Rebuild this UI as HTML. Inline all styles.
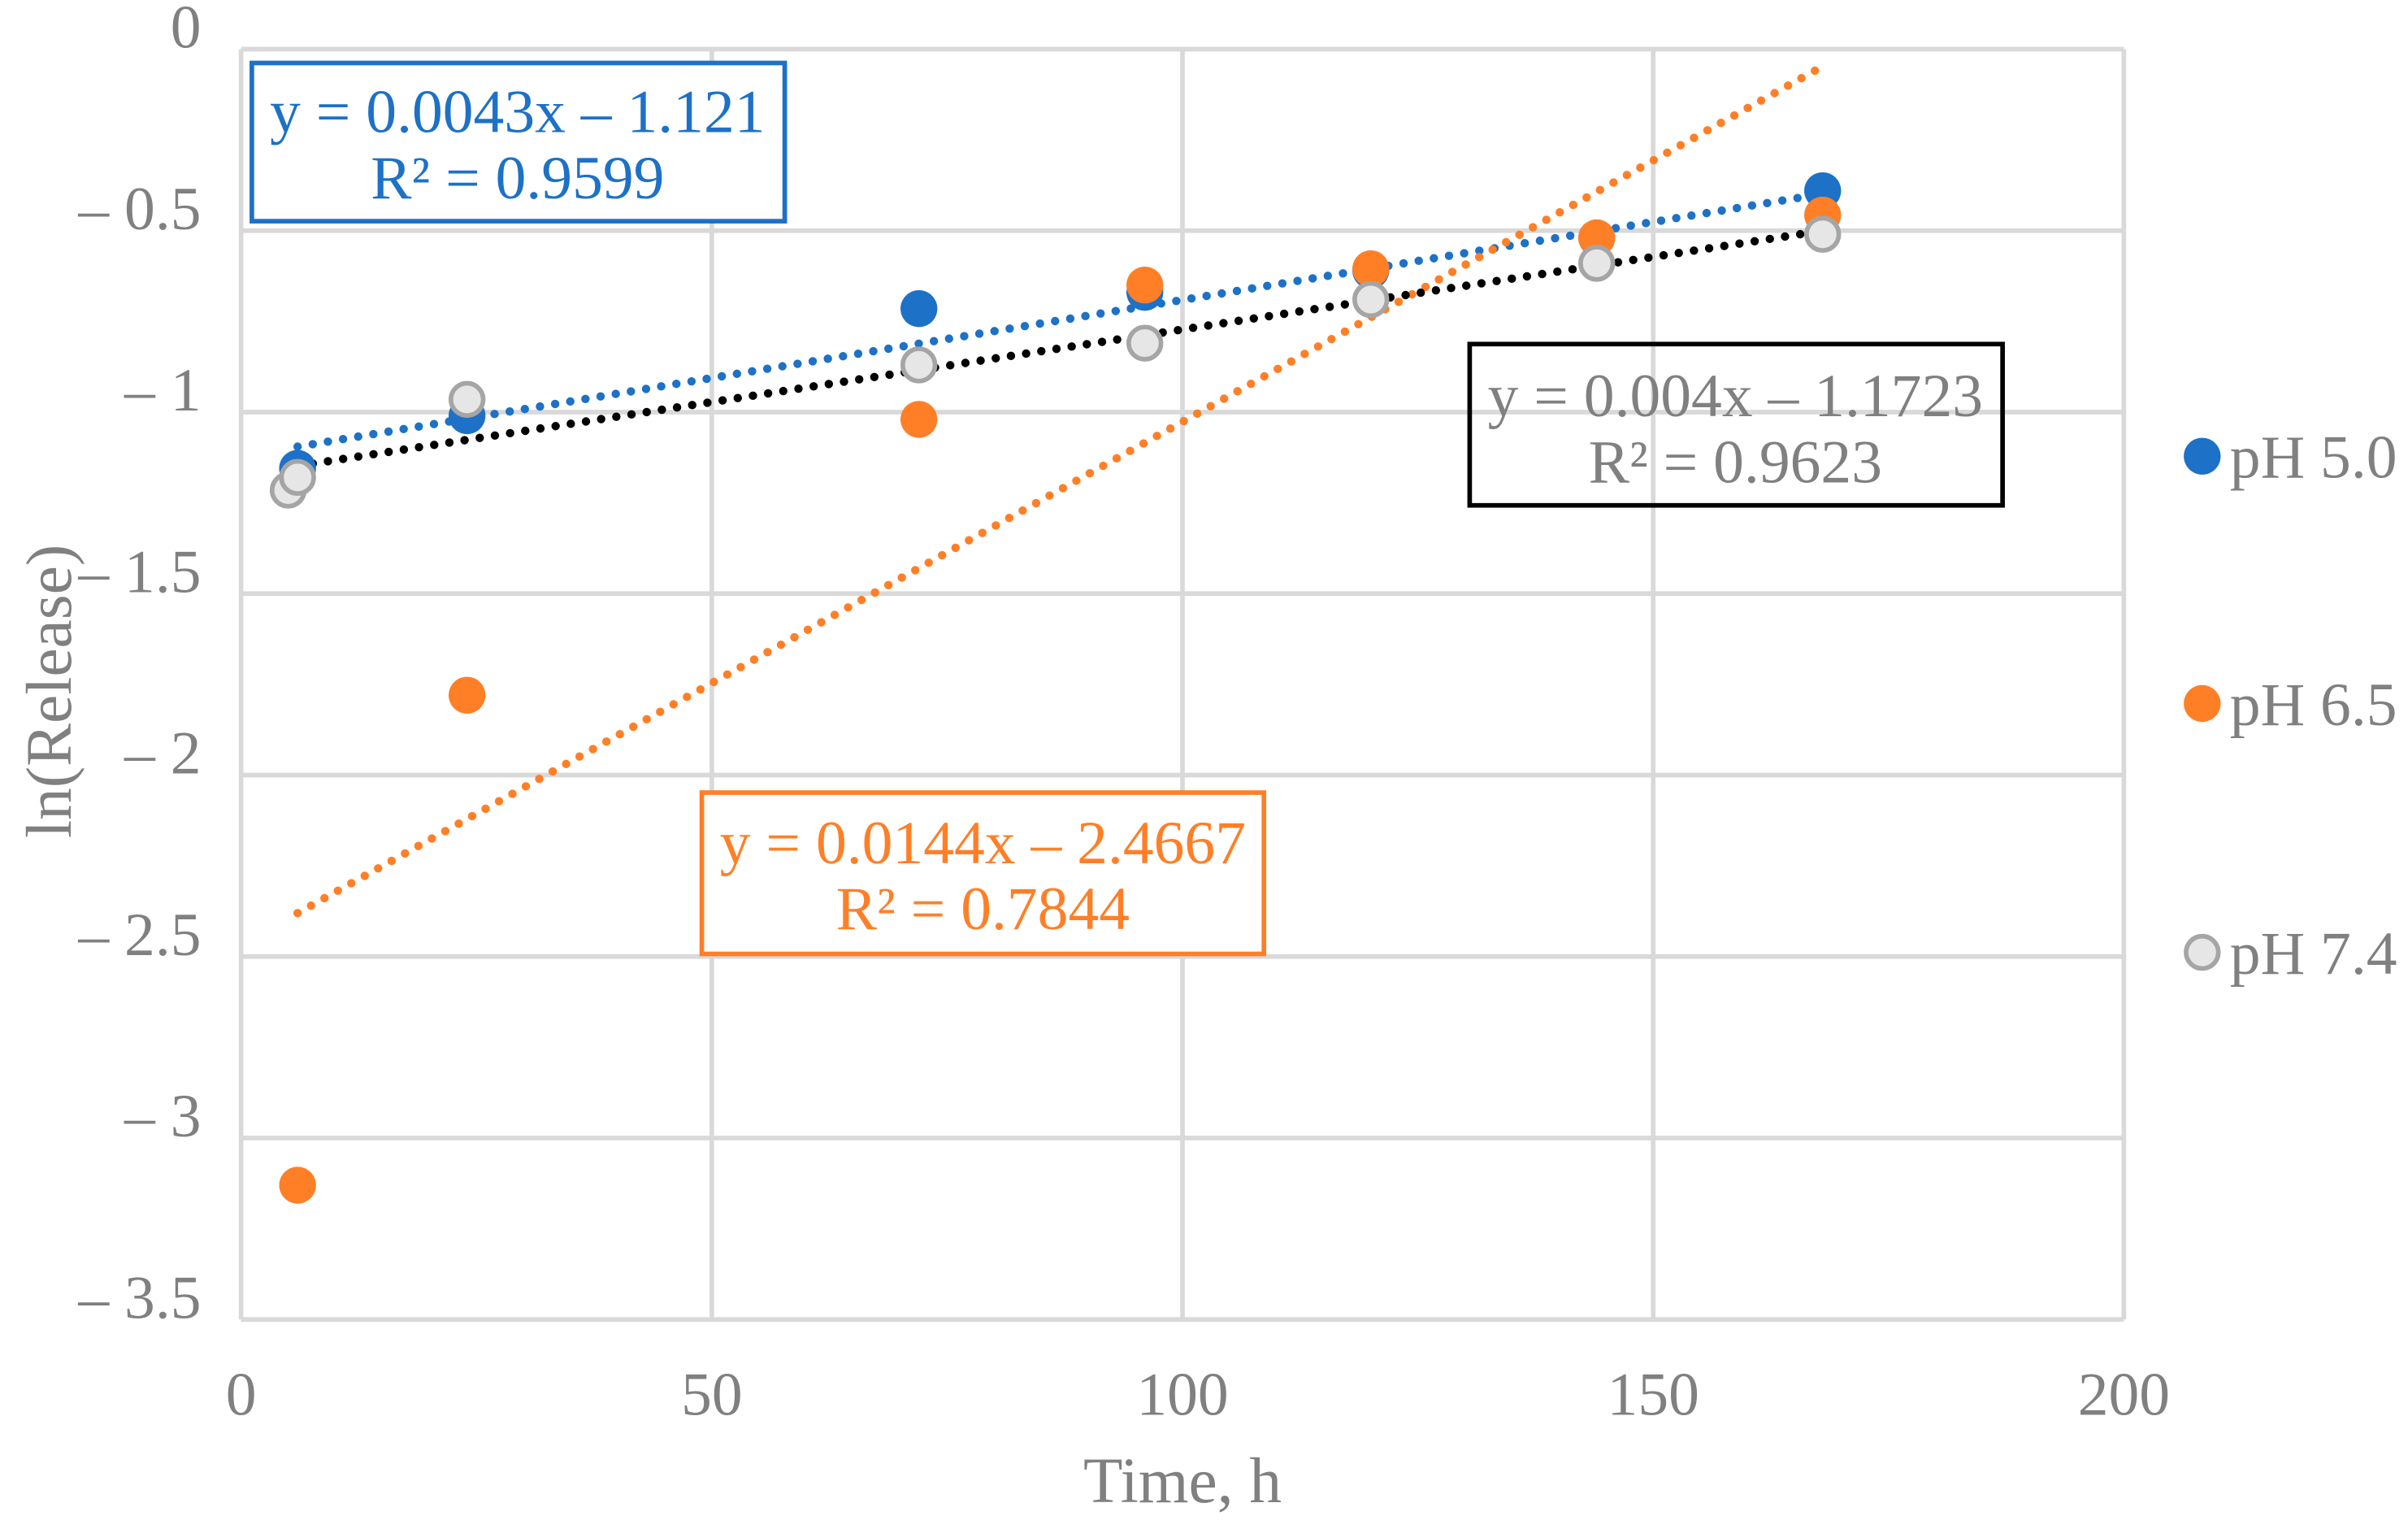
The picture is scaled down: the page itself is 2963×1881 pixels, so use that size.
<!DOCTYPE html>
<html><head><meta charset="utf-8"><style>
html,body{margin:0;padding:0;background:#fff}
svg{display:block}
text{font-family:"Liberation Serif",serif}
</style></head><body>
<svg id="chart" width="2963" height="1881" viewBox="0 0 1568 995.4" xmlns="http://www.w3.org/2000/svg">
<g id="grid"></g>
<g id="ylabels"></g>
<g id="xlabels"></g>
<g id="trends"></g>
<g id="points"></g>
<text x="770" y="978" font-size="42" fill="#808080" text-anchor="middle">Time, h</text>
<text transform="translate(46,450) rotate(-90)" font-size="42" fill="#808080" text-anchor="middle">ln(Release)</text>
<g>
<rect x="164" y="41" width="347" height="103" fill="#fff" stroke="#1d71c6" stroke-width="3"/>
<text x="337" y="86" font-size="40" fill="#1d71c6" text-anchor="middle">y = 0.0043x – 1.121</text>
<text x="337" y="129" font-size="40" fill="#1d71c6" text-anchor="middle">R² = 0.9599</text>
</g>
<g>
<rect x="957" y="224" width="347" height="105" fill="none" stroke="#000" stroke-width="3"/>
<text x="1130" y="271" font-size="40" fill="#808080" text-anchor="middle">y = 0.004x – 1.1723</text>
<text x="1130" y="314" font-size="40" fill="#808080" text-anchor="middle">R² = 0.9623</text>
</g>
<g>
<rect x="457" y="516" width="366" height="105" fill="#fff" stroke="#ff7f27" stroke-width="3"/>
<text x="640" y="562" font-size="40" fill="#ff7f27" text-anchor="middle">y = 0.0144x – 2.4667</text>
<text x="640" y="605" font-size="40" fill="#ff7f27" text-anchor="middle">R² = 0.7844</text>
</g>
<g>
<g><circle cx="1434" cy="297" r="12" fill="#1d71c6"/><text x="1452" y="311" font-size="40" fill="#808080">pH 5.0</text></g>
<g><circle cx="1434" cy="458" r="12" fill="#ff7f27"/><text x="1452" y="472" font-size="40" fill="#808080">pH 6.5</text></g>
<g><circle cx="1434" cy="620" r="10.5" fill="#e7e6e6" stroke="#a5a5a5" stroke-width="3"/><text x="1452" y="634" font-size="40" fill="#808080">pH 7.4</text></g>
</g>
</svg>
<script>
const xTicks = [0, 50, 100, 150, 200];
const yTicks = [0, -0.5, -1, -1.5, -2, -2.5, -3, -3.5];
const yTickLabels = ["0", "– 0.5", "– 1", "– 1.5", "– 2", "– 2.5", "– 3", "– 3.5"];
const ph5X = [6, 24, 72, 96, 120, 144, 168];
const ph5Y = [-1.155, -1.01, -0.715, -0.67, -0.61, -0.52, -0.39];
const ph65X = [6, 24, 72, 96, 120, 144, 168];
const ph65Y = [-3.13, -1.78, -1.02, -0.65, -0.605, -0.52, -0.457];
const ph74X = [5, 6, 24, 72, 96, 120, 144, 168];
const ph74Y = [-1.215, -1.18, -0.965, -0.87, -0.81, -0.69, -0.59, -0.51];
const trendSlopes = [0.0043, 0.0144, 0.004];
const trendIntercepts = [-1.121, -2.4667, -1.1723];
const trendRange = [6, 168];

const NS = "http://www.w3.org/2000/svg";
const L = 157, R = 1383, T = 32, B = 859;
const xs = v => L + (v - 0) / 200 * (R - L);
const ys = v => T + (0 - v) / 3.5 * (B - T);
function mk(tag, attrs, parent) {
  const e = document.createElementNS(NS, tag);
  for (const k in attrs) e.setAttribute(k, attrs[k]);
  parent.appendChild(e); return e;
}
const grid = document.getElementById('grid');
yTicks.forEach(v => {
  const l = mk('line', {x1: L, x2: R, y1: ys(v), y2: ys(v), stroke: '#d9d9d9', 'stroke-width': 3}, grid);
  
  
});
xTicks.forEach(v => {
  const l = mk('line', {x1: xs(v), x2: xs(v), y1: T, y2: B, stroke: '#d9d9d9', 'stroke-width': 3}, grid);
  
  
});
const yl = document.getElementById('ylabels');
yTicks.forEach((v, i) => {
  const t = mk('text', {x: 131, y: ys(v) - 1, 'font-size': 40, fill: '#808080', 'text-anchor': 'end'}, yl);
  t.textContent = yTickLabels[i];
  
  
});
const xl = document.getElementById('xlabels');
xTicks.forEach(v => {
  const t = mk('text', {x: xs(v), y: 921, 'font-size': 40, fill: '#808080', 'text-anchor': 'middle'}, xl);
  t.textContent = String(v);
  
  
});
const pts = document.getElementById('points');
function series(X, Y, fill, stroke, name) {
  X.forEach((x, i) => {
    const c = mk('circle', {cx: xs(x), cy: ys(Y[i]), r: stroke ? 10.5 : 12, fill: fill}, pts);
    if (stroke) { c.setAttribute('stroke', stroke); c.setAttribute('stroke-width', 3); }
    
    
  });
}
series(ph5X, ph5Y, '#1d71c6', null, 'point-ph5');
series(ph65X, ph65Y, '#ff7f27', null, 'point-ph65');
series(ph74X, ph74Y, '#e7e6e6', '#a5a5a5', 'point-ph74');
const tr = document.getElementById('trends');
const trendColors = ['#1d71c6', '#ff7f27', '#000000'];
const trendNames = ['trendline-ph5', 'trendline-ph65', 'trendline-ph74'];
trendSlopes.forEach((m, i) => {
  const b = trendIntercepts[i];
  const ln = mk('line', {x1: xs(trendRange[0]), y1: ys(m * trendRange[0] + b), x2: xs(trendRange[1]), y2: ys(m * trendRange[1] + b),
    stroke: trendColors[i], 'stroke-width': 5.5, 'stroke-linecap': 'round', 'stroke-dasharray': '0 10'}, tr);
  
  
});
</script>
</body></html>
